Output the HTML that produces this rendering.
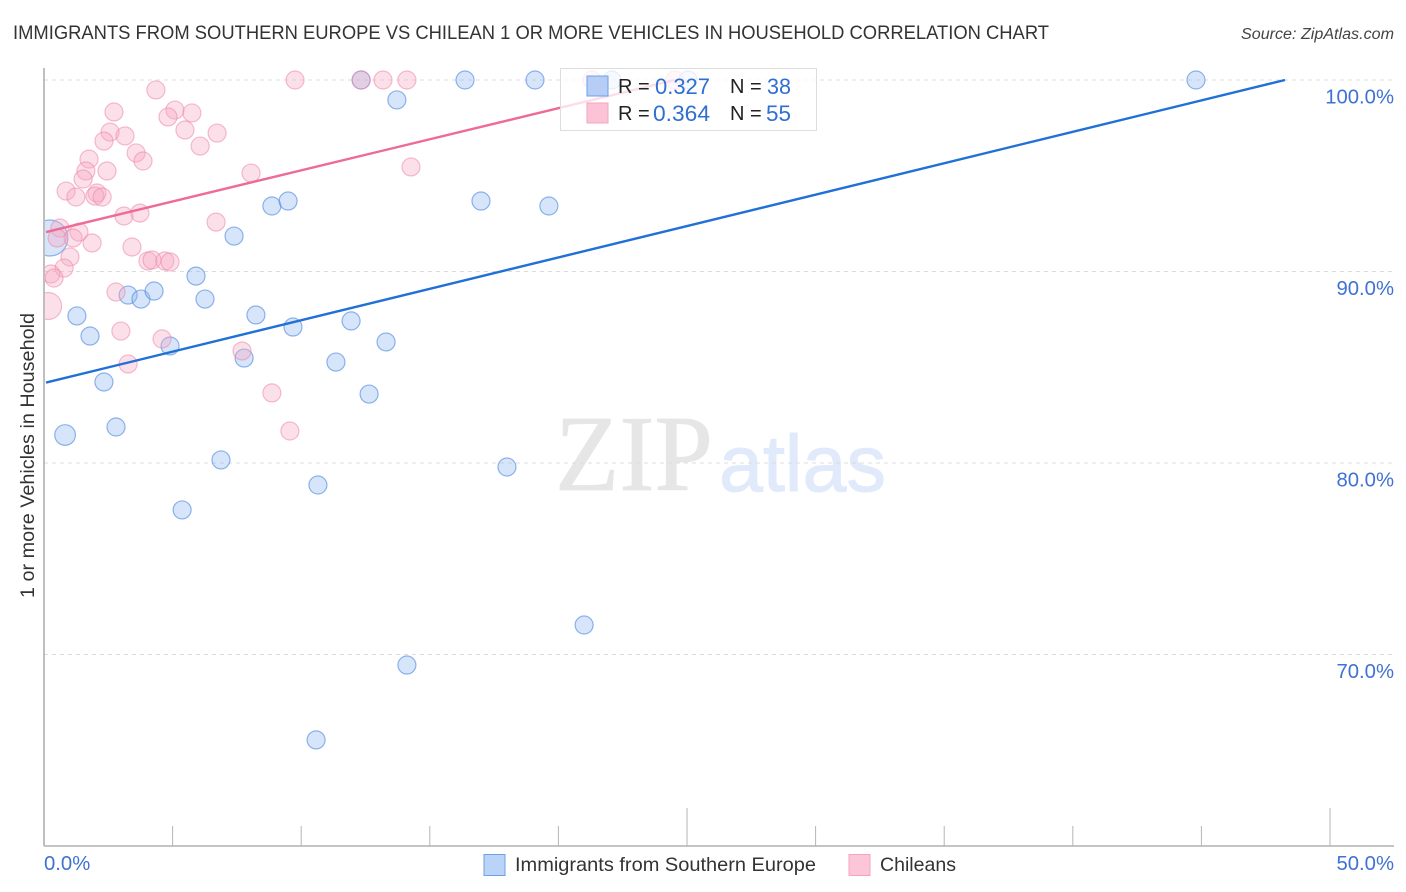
<!DOCTYPE html>
<html>
<head>
<meta charset="utf-8">
<title>Correlation Chart</title>
<style>
html,body{margin:0;padding:0;background:#fff;width:1406px;height:892px;overflow:hidden}
svg{display:block;font-family:"Liberation Sans",sans-serif}
</style>
</head>
<body>
<svg id="chart" width="1406" height="892" viewBox="0 0 1406 892" xmlns="http://www.w3.org/2000/svg">
  <defs><clipPath id="plot-clip"><rect x="45" y="60" width="1349" height="786"/></clipPath></defs>
  <text x="13" y="39" font-size="19.5" fill="#333" textLength="1036" lengthAdjust="spacingAndGlyphs">IMMIGRANTS FROM SOUTHERN EUROPE VS CHILEAN 1 OR MORE VEHICLES IN HOUSEHOLD CORRELATION CHART</text>
  <text x="1241" y="39" font-size="15.5" font-style="italic" fill="#444" textLength="153" lengthAdjust="spacingAndGlyphs">Source: ZipAtlas.com</text>
  <text x="555" y="490" font-family="'Liberation Serif',serif" font-size="108" fill="#e6e6e6" stroke="#e6e6e6" stroke-width="0.8" textLength="158" lengthAdjust="spacingAndGlyphs">ZIP</text>
  <text x="719" y="491" font-size="80" fill="#e0eafa" stroke="#e0eafa" stroke-width="1" textLength="167" lengthAdjust="spacingAndGlyphs">atlas</text>
  <g id="grid"></g>
  <g id="axes"></g>
  <g id="points" clip-path="url(#plot-clip)"></g>
  <g id="trends" clip-path="url(#plot-clip)"></g>
  <text transform="translate(34,455.5) rotate(-90)" font-size="19.5" fill="#333" text-anchor="middle" textLength="285" lengthAdjust="spacingAndGlyphs">1 or more Vehicles in Household</text>
  <g>
    <rect x="560.5" y="68.5" width="256" height="62" fill="#fff" fill-opacity="0.78" stroke="#ddd"/>
    <rect x="587" y="76" width="21" height="20" fill="#a9c6f3" fill-opacity="0.85" stroke="#6f9fe4"/>
    <rect x="587" y="103" width="21" height="20" fill="#fbc3d5" stroke="#f3a4bf"/>
    <text x="618" y="93" font-size="20" fill="#222">R =</text>
    <text x="655" y="94" font-size="22" fill="#2f6fd2" textLength="55" lengthAdjust="spacingAndGlyphs">0.327</text>
    <text x="730" y="93" font-size="20" fill="#222">N =</text>
    <text x="767" y="94" font-size="22" fill="#2f6fd2" textLength="24" lengthAdjust="spacingAndGlyphs">38</text>
    <text x="618" y="120" font-size="20" fill="#222">R =</text>
    <text x="653" y="121" font-size="22" fill="#2f6fd2" textLength="57" lengthAdjust="spacingAndGlyphs">0.364</text>
    <text x="730" y="120" font-size="20" fill="#222">N =</text>
    <text x="766" y="121" font-size="22" fill="#2f6fd2" textLength="25" lengthAdjust="spacingAndGlyphs">55</text>
  </g>
  <g>
    <rect x="484" y="854.5" width="21" height="21" fill="#b9d4f8" stroke="#6f9fe4"/>
    <text x="515" y="871" font-size="19.5" fill="#333" textLength="301" lengthAdjust="spacingAndGlyphs">Immigrants from Southern Europe</text>
    <rect x="849" y="854.5" width="21" height="21" fill="#fdc6d8" stroke="#f3a4bf"/>
    <text x="880" y="871" font-size="19.5" fill="#333" textLength="76" lengthAdjust="spacingAndGlyphs">Chileans</text>
  </g>
</svg>
<script>
const yTickValues = [100, 90, 80, 70];
const yTickLabels = ["100.0%", "90.0%", "80.0%", "70.0%"];
const xTickValues = [5, 10, 15, 20, 25, 30, 35, 40, 45, 50];
const xEndLabels = ["0.0%", "50.0%"];

const immigrantsX = [0.23,0.82,1.28,1.79,2.33,2.80,3.27,3.77,4.28,4.90,5.37,5.91,6.26,6.88,7.39,7.78,8.24,8.86,9.49,9.68,10.65,10.58,11.35,11.94,12.33,12.64,13.30,13.72,14.11,16.37,16.99,18.00,19.09,19.63,21.00,22.08,25.04,44.79];
const immigrantsY = [91.75,81.46,87.68,86.63,84.23,81.88,88.77,88.56,88.98,86.11,77.55,89.76,88.56,80.16,91.85,85.48,87.73,93.42,93.68,87.10,78.85,65.54,85.27,87.42,100,83.60,86.32,98.96,69.45,100,93.68,79.79,100,93.42,71.54,100,100,100];
const immigrantsWeight = [2,1.15,1,1,1,1,1,1,1,1,1,1,1,1,1,1,1,1,1,1,1,1,1,1,1,1,1,1,1,1,1,1,1,1,1,1,1,1];

const chileansX = [4.35,9.76,2.72,5.09,4.82,5.75,5.48,6.73,6.07,2.57,3.15,2.33,3.58,3.85,1.75,1.63,2.45,1.52,0.86,1.24,2.06,1.98,2.26,8.05,3.11,3.73,6.69,0.62,1.36,1.13,0.51,1.87,3.42,1.01,4.04,4.20,4.70,4.90,0.78,0.27,0.39,2.80,0.16,2.99,4.59,7.70,3.27,8.86,9.56,12.33,13.18,14.11,14.27,21.31,24.53];
const chileansY = [99.48,100,98.33,98.43,98.07,98.28,97.39,97.23,96.55,97.28,97.08,96.81,96.19,95.77,95.87,95.25,95.25,94.83,94.20,93.89,94.10,93.94,93.89,95.14,92.90,93.05,92.58,92.27,92.06,91.75,91.75,91.49,91.28,90.76,90.55,90.60,90.55,90.50,90.18,89.87,89.66,88.93,88.20,86.89,86.48,85.85,85.17,83.66,81.67,100,100,100,95.46,100,100];
const chileansWeight = [1,1,1,1,1,1,1,1,1,1,1,1,1,1,1,1,1,1,1,1,1,1,1,1,1,1,1,1,1,1,1,1,1,1,1,1,1,1,1,1,1,1,1.5,1,1,1,1,1,1,1,1,1,1,1,1];

const immigrantsTrendX = [0.08, 48.25];
const immigrantsTrendY = [84.2, 100];
const chileansTrendX = [0.08, 24.53];
const chileansTrendY = [92.06, 100];

const NS = "http://www.w3.org/2000/svg";
const xScale = v => 44 + v * 25.72;
const yScale = v => 80 + (100 - v) * 19.15;
const rScale = w => 9 * w;
const mk = (parent, tag, attrs) => {
  const el = document.createElementNS(NS, tag);
  for (const k in attrs) el.setAttribute(k, attrs[k]);
  parent.appendChild(el);
  return el;
};
const grid = document.getElementById("grid");
const axes = document.getElementById("axes");
const points = document.getElementById("points");
const trends = document.getElementById("trends");

yTickValues.forEach((v, i) => {
  const line = mk(grid, "line", {x1: 44, x2: 1394, y1: yScale(v), y2: yScale(v), stroke: "#dcdcdc", "stroke-dasharray": "4 4"});
  
  
  const label = mk(axes, "text", {x: 1394, y: yScale(v) + 23.5, "font-size": 20.3, fill: "#3f72d3", "text-anchor": "end"});
  
  
  label.textContent = yTickLabels[i];
});

const yAxis = mk(axes, "line", {x1: 44, x2: 44, y1: 68, y2: 846, stroke: "#aaa", "stroke-width": 1.5});


const xAxis = mk(axes, "line", {x1: 44, x2: 1394, y1: 846, y2: 846, stroke: "#b0b0b0", "stroke-width": 1.5});



xTickValues.forEach(v => {
  const top = v % 25 === 0 ? 808 : 826;
  const tick = mk(axes, "line", {x1: xScale(v), x2: xScale(v), y1: top, y2: 846, stroke: "#b5b5b5"});
  
  
});

const xLabelLeft = mk(axes, "text", {x: xScale(0), y: 870, "font-size": 20.3, fill: "#3f72d3"});


xLabelLeft.textContent = xEndLabels[0];
const xLabelRight = mk(axes, "text", {x: 1394, y: 870, "font-size": 20.3, fill: "#3f72d3", "text-anchor": "end"});


xLabelRight.textContent = xEndLabels[1];

immigrantsX.forEach((v, i) => {
  const c = mk(points, "circle", {cx: xScale(v), cy: yScale(immigrantsY[i]), r: rScale(immigrantsWeight[i]), fill: "#8fb8f2", "fill-opacity": 0.36, stroke: "#4a86dc", "stroke-opacity": 0.6, "stroke-width": 1.2});
  
  
});
chileansX.forEach((v, i) => {
  const c = mk(points, "circle", {cx: xScale(v), cy: yScale(chileansY[i]), r: rScale(chileansWeight[i]), fill: "#f8a9c3", "fill-opacity": 0.36, stroke: "#ee85a8", "stroke-opacity": 0.55, "stroke-width": 1.2});
  
  
});

const blueLine = mk(trends, "line", {x1: xScale(immigrantsTrendX[0]), y1: yScale(immigrantsTrendY[0]), x2: xScale(immigrantsTrendX[1]), y2: yScale(immigrantsTrendY[1]), stroke: "#2070d8", "stroke-width": 2.4});


const pinkLine = mk(trends, "line", {x1: xScale(chileansTrendX[0]), y1: yScale(chileansTrendY[0]), x2: xScale(chileansTrendX[1]), y2: yScale(chileansTrendY[1]), stroke: "#ee6a98", "stroke-width": 2.4});


</script>
</body>
</html>
